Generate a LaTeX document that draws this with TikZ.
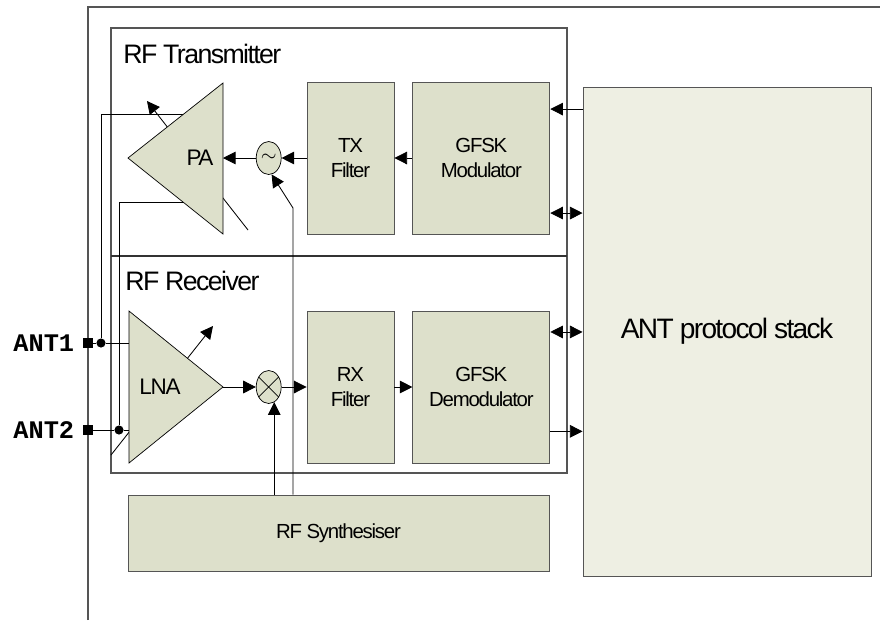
\documentclass[tikz,border=0pt]{standalone}
\usepackage{fontspec}
\setmainfont{Liberation Sans}[LetterSpace=-6]
\newfontfamily\antfont{Liberation Mono}
\usepackage{tikz}
\usetikzlibrary{arrows.meta,shapes,positioning,calc}
\definecolor{blockfill}{RGB}{221,224,203}
\definecolor{stackfill}{RGB}{238,239,227}
\definecolor{edge}{RGB}{85,85,85}

\begin{document}
\begin{tikzpicture}[x=0.025cm,y=-0.025cm,>={Triangle[length=9pt,width=9pt]},
line width=0.6pt]
\tikzstyle{block}=[draw=edge,fill=blockfill,minimum width=2.175cm,minimum height=3.8cm,
  align=center,inner sep=0pt,font=\fontsize{14.5}{17.5}\selectfont]
\tikzstyle{wide}=[block,minimum width=3.425cm]
\tikzstyle{amp}=[draw=black,fill=blockfill,line width=0.5pt]
\tikzstyle{circ}=[draw=black,fill=blockfill,ellipse,minimum width=0.625cm,
  minimum height=0.825cm,inner sep=0pt,line width=0.5pt]
\tikzstyle{title}=[anchor=base west,inner sep=0pt,font=\fontsize{19}{19}\selectfont]
\tikzstyle{antpad}=[fill=black,minimum size=6.5pt,inner sep=0pt]
\tikzstyle{dot}=[circle,fill=black,minimum size=6.5pt,inner sep=0pt]

\useasboundingbox (0,0) rectangle (880,620);

% frame and RF box
\draw[edge,line width=0.9pt] (88,620) -- (88,7) -- (880,7);
\draw[edge,line width=0.8pt] (111,28) rectangle (567,473);
\draw[black!80,line width=0.8pt] (111,256) -- (567,256);
\node[title] (TT) at (123,63) {RF Transmitter};
\node[title] (RT) at (125,290) {RF Receiver};

\node[block]                      (TXF) at (350.5,158) {TX\\Filter};
\node[wide,right=0.45cm of TXF]   (MOD)                {GFSK\\Modulator};
\node[block]                      (RXF) at (350.5,387) {RX\\Filter};
\node[wide,right=0.45cm of RXF]   (DEM)                {GFSK\\Demodulator};
\node[circ,left=0.625cm of TXF]   (OSC)                {\Large$\sim$};
\node[circ,left=0.625cm of RXF]   (MIX)                {};
\draw[line width=0.5pt] (MIX.45) -- (MIX.225) (MIX.135) -- (MIX.-45);
\node[block,minimum width=10.525cm,minimum height=1.9cm] (SYN) at (338.5,533) {RF Synthesiser};
\node[draw=edge,fill=stackfill,minimum width=7.2cm,minimum height=12.225cm,
  font=\fontsize{20}{20}\selectfont] (ST) at (727,331.5) {ANT protocol stack};

% antennas
\node[antpad] (A1) at (88,343) {};
\node[antpad] (A2) at (88,430) {};
\node[left=6pt of A1,inner sep=0pt,font=\antfont\bfseries\fontsize{18}{18}\selectfont] (L1) {ANT1};
\node[left=6pt of A2,inner sep=0pt,font=\antfont\bfseries\fontsize{18}{18}\selectfont] (L2) {ANT2};
\node[dot] (D1) at (101,343) {};
\node[dot] (D2) at (119,430) {};
\coordinate (PAa) at (190,114);
\coordinate (PAb) at (190,202);
\coordinate (LNAi) at (129,387);
\draw (A1) -- (D1) -- (D1 -| LNAi);
\draw (A2) -- (D2) -- (D2 -| LNAi);
\draw (D1) |- (PAa);
\draw (D2) |- (PAb);

% variable gain
\draw[->] (248,230) -- (147,101);
\draw[->] (111,455) -- (213,326);

% PA and LNA
\draw[amp] (223,83) -- (223,234) -- (128,158) -- cycle;
\node[font=\fontsize{16}{16}\selectfont] (PA) at (200,158) {PA};
\coordinate (PAo) at (223,158);
\draw[amp] (129,311) -- (129,463) -- (223,387) -- cycle;
\node[font=\fontsize{16}{16}\selectfont] (LNA) at (160,387) {LNA};
\coordinate (LNAo) at (223,387);

\draw[->] (MOD) -- (TXF);
\draw[->] (TXF) -- (OSC);
\draw[->] (OSC) -- (PAo);
\draw[->] (LNAo) -- (MIX);
\draw[->] (MIX) -- (RXF);
\draw[->] (RXF) -- (DEM);

% synthesiser
\coordinate (o2) at (293,208);
\draw[->] (SYN.north -| o2) -- (o2) -- (OSC.-80);
\draw[->] (SYN.north -| MIX.-70) -- (MIX.-70);

% stack
\coordinate (m1) at ($(MOD.north east)!.18!(MOD.south east)$);
\coordinate (m2) at ($(MOD.north east)!.86!(MOD.south east)$);
\coordinate (d1) at ($(DEM.north east)!.14!(DEM.south east)$);
\coordinate (d2) at ($(DEM.north east)!.79!(DEM.south east)$);
\draw[->] (m1 -| ST.west) -- (m1);
\draw[<->] (m2 -| ST.west) -- (m2);
\draw[<->] (d1 -| ST.west) -- (d1);
\draw[->] (d2) -- (d2 -| ST.west);
\end{tikzpicture}
\end{document}
